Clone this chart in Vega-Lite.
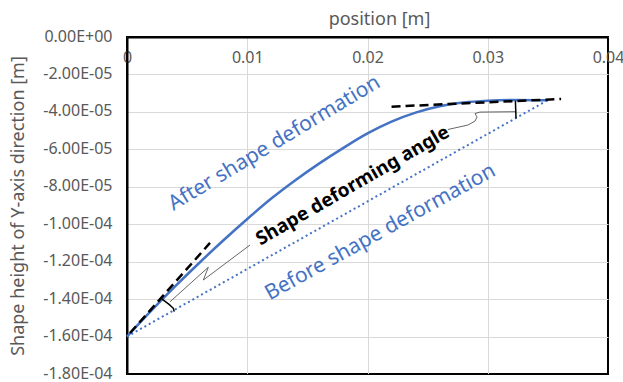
{
  "$schema": "https://vega.github.io/schema/vega-lite/v6.json",
  "width": 481,
  "height": 337,
  "autosize": {"type": "none"},
  "padding": {"left": 127, "top": 37, "right": 15, "bottom": 8},
  "config": {
    "view": {"stroke": "#000", "strokeWidth": 2},
    "font": "Noto Sans",
    "axis": {
      "labelFont": "Noto Sans", "titleFont": "Noto Sans",
      "labelColor": "#595959", "titleColor": "#595959",
      "labelFontSize": 16, "titleFontSize": 18, "titleFontWeight": "normal",
      "ticks": false, "domainColor": "#000", "domainWidth": 2,
      "gridColor": "#d9d9d9", "gridWidth": 1
    }
  },
  "datasets": {
    "curve": [
      {"x": 0, "y": -0.00016},
      {"x": 0.002, "y": -0.0001463},
      {"x": 0.004, "y": -0.0001332},
      {"x": 0.006, "y": -0.0001207},
      {"x": 0.008, "y": -0.0001087},
      {"x": 0.010, "y": -0.0000972},
      {"x": 0.012, "y": -0.0000863},
      {"x": 0.014, "y": -0.0000765},
      {"x": 0.016, "y": -0.0000675},
      {"x": 0.018, "y": -0.0000592},
      {"x": 0.020, "y": -0.0000515},
      {"x": 0.022, "y": -0.0000452},
      {"x": 0.024, "y": -0.0000404},
      {"x": 0.026, "y": -0.0000370},
      {"x": 0.028, "y": -0.0000350},
      {"x": 0.030, "y": -0.0000340},
      {"x": 0.032, "y": -0.0000336},
      {"x": 0.035, "y": -0.0000338}
    ],
    "dotted": [
      {"x": 0, "y": -0.00016},
      {"x": 0.035, "y": -0.0000337}
    ],
    "dashed": [
      {"seg": "a", "x": 0.00025, "y": -0.0001581},
      {"seg": "a", "x": 0.0069, "y": -0.00011},
      {"seg": "b", "x": 0.022, "y": -0.0000372},
      {"seg": "b", "x": 0.0361, "y": -0.0000331}
    ],
    "arcs": [
      {"seg": "l", "i": 1, "x": 0.00289, "y": -0.0001399},
      {"seg": "l", "i": 2, "x": 0.0035, "y": -0.0001428},
      {"seg": "l", "i": 3, "x": 0.00385, "y": -0.0001449},
      {"seg": "l", "i": 4, "x": 0.00393, "y": -0.0001467},
      {"seg": "u", "i": 1, "x": 0.0323, "y": -0.000034},
      {"seg": "u", "i": 2, "x": 0.03235, "y": -0.0000434}
    ],
    "callouts": [
      {"seg": "u", "i": 1, "x": 0.02669, "y": -0.0000494},
      {"seg": "u", "i": 2, "x": 0.02836, "y": -0.000047},
      {"seg": "u", "i": 3, "x": 0.02894, "y": -0.0000449},
      {"seg": "u", "i": 4, "x": 0.02911, "y": -0.0000427},
      {"seg": "u", "i": 5, "x": 0.02894, "y": -0.0000409},
      {"seg": "u", "i": 6, "x": 0.02935, "y": -0.0000401},
      {"seg": "u", "i": 7, "x": 0.03227, "y": -0.0000399},
      {"seg": "l", "i": 1, "x": 0.01023, "y": -0.0001111},
      {"seg": "l", "i": 2, "x": 0.00635, "y": -0.0001298},
      {"seg": "l", "i": 3, "x": 0.00676, "y": -0.000123},
      {"seg": "l", "i": 4, "x": 0.00358, "y": -0.0001414}
    ],
    "labels": [
      {"label": "After shape deformation", "x": 0.012516, "y": -0.00005955},
      {"label": "Before shape deformation", "x": 0.02131, "y": -0.00010714},
      {"label": "Shape deforming angle", "x": 0.01901, "y": -0.00008209}
    ]
  },
  "encoding": {
    "x": {
      "field": "x", "type": "quantitative",
      "scale": {"domain": [0, 0.04], "nice": false},
      "axis": {
        "orient": "top", "title": "position [m]",
        "values": [0, 0.01, 0.02, 0.03, 0.04],
        "labelExpr": "datum.value == 0 ? '0' : format(datum.value, '.2f')",
        "labelFlush": false, "labelPadding": -28, "labelBaseline": "bottom",
        "titleX": 252, "titleY": -18, "titleBaseline": "middle", "titleAlign": "center",
        "gridColor": {"condition": {"test": "datum.value >= 0.0399", "value": "#000"}, "value": "#d9d9d9"}
      }
    },
    "y": {
      "field": "y", "type": "quantitative",
      "scale": {"domain": [-0.00018, 0], "nice": false, "zero": false},
      "axis": {
        "title": "Shape height of Y-axis direction [m]",
        "values": [0, -0.00002, -0.00004, -0.00006, -0.00008, -0.0001, -0.00012, -0.00014, -0.00016, -0.00018],
        "labelExpr": "datum.value == 0 ? '0.00E+00' : (datum.value < 0 ? '-' : '') + format(abs(datum.value) / pow(10, floor(log(abs(datum.value)) / LN10 + 1e-9)), '.2f') + 'E' + (floor(log(abs(datum.value)) / LN10 + 1e-9) < 0 ? '-' : '+') + (abs(floor(log(abs(datum.value)) / LN10 + 1e-9)) < 10 ? '0' : '') + abs(floor(log(abs(datum.value)) / LN10 + 1e-9))",
        "labelPadding": 15, "labelOffset": -1,
        "titleX": -109, "titleY": 168.5, "titleBaseline": "middle", "titleAlign": "center", "titleAngle": -90,
        "gridColor": {"condition": {"test": "datum.value <= -0.000179", "value": "#000"}, "value": "#d9d9d9"}
      }
    }
  },
  "layer": [
    {
      "data": {"name": "dotted"},
      "mark": {"type": "line", "color": "#4472C4", "strokeWidth": 2, "strokeDash": [2, 3]}
    },
    {
      "data": {"name": "curve"},
      "mark": {"type": "line", "color": "#4472C4", "strokeWidth": 2.5, "interpolate": "monotone"}
    },
    {
      "data": {"name": "dashed"},
      "mark": {"type": "line", "color": "#000", "strokeWidth": 2.5, "strokeDash": [9, 5]},
      "encoding": {"detail": {"field": "seg"}}
    },
    {
      "data": {"name": "arcs"},
      "mark": {"type": "line", "color": "#000", "strokeWidth": 1.5},
      "encoding": {"detail": {"field": "seg"}, "order": {"field": "i", "type": "quantitative"}}
    },
    {
      "data": {"name": "callouts"},
      "mark": {"type": "line", "color": "#404040", "strokeWidth": 0.8},
      "encoding": {"detail": {"field": "seg"}, "order": {"field": "i", "type": "quantitative"}}
    },
    {
      "data": {"name": "labels"},
      "transform": [{"filter": "datum.label == 'After shape deformation'"}],
      "mark": {"type": "text", "color": "#4472C4", "fontSize": 21, "angle": -31, "align": "center", "baseline": "alphabetic", "font": "Noto Sans"},
      "encoding": {"text": {"field": "label"}}
    },
    {
      "data": {"name": "labels"},
      "transform": [{"filter": "datum.label == 'Before shape deformation'"}],
      "mark": {"type": "text", "color": "#4472C4", "fontSize": 21, "angle": -29, "align": "center", "baseline": "alphabetic", "font": "Noto Sans"},
      "encoding": {"text": {"field": "label"}}
    },
    {
      "data": {"name": "labels"},
      "transform": [{"filter": "datum.label == 'Shape deforming angle'"}],
      "mark": {"type": "text", "color": "#000", "fontSize": 19, "fontWeight": "bold", "angle": -30, "align": "center", "baseline": "alphabetic", "font": "Noto Sans"},
      "encoding": {"text": {"field": "label"}}
    }
  ]
}
